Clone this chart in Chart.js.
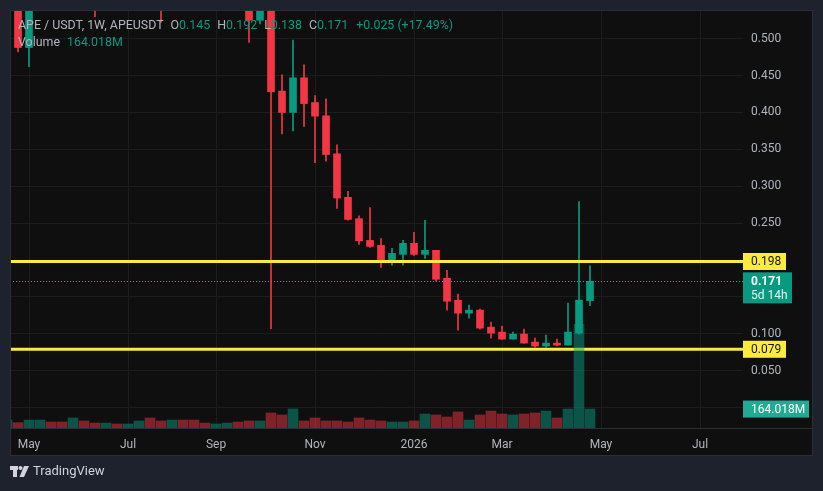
<!DOCTYPE html>
<html>
<head>
<meta charset="utf-8">
<title>APE / USDT 1W</title>
<script src="https://cdn.jsdelivr.net/npm/chart.js@4.4.1/dist/chart.umd.min.js"></script>
<style>
  html, body { margin: 0; padding: 0; background: #1e222d; overflow: hidden; }
  #apeChart { display: block; width: 823px; height: 491px; }
</style>
</head>
<body>
<canvas id="apeChart" width="823" height="491"></canvas>
<script>
// weekly candles, week start (Monday)
var weeks = [
  '2025-04-21', '2025-04-28', '2025-05-05', '2025-05-12', '2025-05-19', '2025-05-26',
  '2025-06-02', '2025-06-09', '2025-06-16', '2025-06-23', '2025-06-30', '2025-07-07',
  '2025-07-14', '2025-07-21', '2025-07-28', '2025-08-04', '2025-08-11', '2025-08-18',
  '2025-08-25', '2025-09-01', '2025-09-08', '2025-09-15', '2025-09-22', '2025-09-29',
  '2025-10-06', '2025-10-13', '2025-10-20', '2025-10-27', '2025-11-03', '2025-11-10',
  '2025-11-17', '2025-11-24', '2025-12-01', '2025-12-08', '2025-12-15', '2025-12-22',
  '2025-12-29', '2026-01-05', '2026-01-12', '2026-01-19', '2026-01-26', '2026-02-02',
  '2026-02-09', '2026-02-16', '2026-02-23', '2026-03-02', '2026-03-09', '2026-03-16',
  '2026-03-23', '2026-03-30', '2026-04-06', '2026-04-13', '2026-04-20', '2026-04-27'
]
var opens = [
  0.469, 0.620, 0.488, 0.630, 0.690, 0.660, 0.620, 0.720, 0.660, 0.580, 0.630, 0.600,
  0.640, 0.710, 0.660, 0.580, 0.630, 0.610, 0.590, 0.570, 0.610, 0.640, 0.590, 0.525,
  0.580, 0.429, 0.400, 0.447, 0.4135, 0.3955, 0.344, 0.285, 0.256, 0.2266, 0.220, 0.1996,
  0.2077, 0.2226, 0.2077, 0.2131, 0.1753, 0.1455, 0.128, 0.1321, 0.109, 0.1023, 0.0928, 0.0996,
  0.0888, 0.0834, 0.0874, 0.0847, 0.1009, 0.145
]
var highs = [
  0.530, 0.640, 0.660, 0.720, 0.730, 0.680, 0.750, 0.740, 0.670, 0.660, 0.650, 0.660,
  0.740, 0.800, 0.680, 0.660, 0.660, 0.630, 0.610, 0.640, 0.670, 0.660, 0.610, 0.620,
  0.600, 0.451, 0.498, 0.4645, 0.423, 0.4185, 0.356, 0.293, 0.260, 0.271, 0.229, 0.216,
  0.2266, 0.2375, 0.2537, 0.2131, 0.1861, 0.1537, 0.1388, 0.1334, 0.1158, 0.1104, 0.1023, 0.1064,
  0.0942, 0.0982, 0.0928, 0.1415, 0.2793, 0.192
]
var lows = [
  0.455, 0.482, 0.462, 0.600, 0.640, 0.600, 0.600, 0.640, 0.530, 0.570, 0.580, 0.580,
  0.620, 0.640, 0.522, 0.560, 0.580, 0.570, 0.550, 0.538, 0.590, 0.570, 0.495, 0.520,
  0.107, 0.371, 0.375, 0.381, 0.332, 0.334, 0.270, 0.254, 0.221, 0.217, 0.190, 0.193,
  0.193, 0.2064, 0.2023, 0.1712, 0.1321, 0.105, 0.1212, 0.1064, 0.0942, 0.0928, 0.0928, 0.0874,
  0.082, 0.082, 0.0834, 0.0847, 0.0996, 0.138
]
var closes = [
  0.516, 0.488, 0.630, 0.690, 0.660, 0.620, 0.720, 0.660, 0.580, 0.630, 0.600, 0.640,
  0.710, 0.660, 0.580, 0.630, 0.610, 0.590, 0.570, 0.610, 0.640, 0.590, 0.525, 0.580,
  0.428, 0.400, 0.447, 0.412, 0.395, 0.343, 0.284, 0.255, 0.226, 0.2185, 0.1996, 0.209,
  0.2226, 0.2077, 0.2131, 0.1739, 0.1442, 0.128, 0.1321, 0.1077, 0.1009, 0.0928, 0.0996, 0.0874,
  0.0834, 0.0874, 0.0847, 0.1023, 0.14563, 0.1711
]
// volume, millions
var volumes = [
  69, 46, 69, 69, 52, 52, 87, 61, 43, 43, 35, 35,
  61, 87, 61, 69, 69, 69, 43, 35, 43, 52, 61, 61,
  130, 113, 165, 61, 87, 61, 61, 52, 87, 69, 61, 52,
  52, 61, 121, 113, 95, 139, 69, 113, 147, 121, 113, 121,
  130, 147, 87, 164, 898, 164.018
]
var tickWeeks = [2, 11, 19, 28, 37, 45, 54, 63]
var tickLabels = ['May', 'Jul', 'Sep', 'Nov', '2026', 'Mar', 'May', 'Jul']
var priceTicks = [0, 0.05, 0.1, 0.15, 0.2, 0.25, 0.3, 0.35, 0.4, 0.45, 0.5]
var hiddenPriceTicks = [0, 0.15, 0.2]
var levels = [0.198, 0.079]

var UP = '#089981'
var DOWN = '#f23645'
var TEXT = '#b2b5be'
var FONT = 'Roboto, "Noto Sans", sans-serif'

function isUp(i) { return closes[i] >= opens[i] }
function candleColor(ctx) { return isUp(ctx.dataIndex) ? UP : DOWN }
function volumeColor(ctx) { return isUp(ctx.dataIndex) ? 'rgba(8,153,129,0.5)' : 'rgba(242,54,69,0.5)' }

var last = weeks.length - 1

var tvDecor = {
  id: 'tvDecor',
  beforeDraw: function(chart) {
    var c = chart.ctx
    c.save()
    c.fillStyle = '#1e222d'
    c.fillRect(0, 0, chart.width, chart.height)
    c.fillStyle = '#0f0f0f'
    c.fillRect(10, 10, 803, 446)
    c.restore()
  },
  // horizontal lines go over the candles but under the volume
  afterDatasetDraw: function(chart, args) {
    if (args.index !== 1) return
    var a = chart.chartArea
    var y = chart.scales.y
    var c = chart.ctx
    c.save()
    c.beginPath()
    c.rect(a.left, a.top, a.right - a.left, a.bottom - a.top)
    c.clip()
    var py = Math.round(y.getPixelForValue(closes[last])) + 0.5
    c.strokeStyle = '#12b195'
    c.lineWidth = 1
    c.setLineDash([1, 2])
    c.beginPath()
    c.moveTo(a.left, py)
    c.lineTo(a.right, py)
    c.stroke()
    c.setLineDash([])
    c.strokeStyle = '#ffeb3b'
    c.lineWidth = 3
    levels.forEach(function(lv) {
      var ly = y.getPixelForValue(lv)
      c.beginPath()
      c.moveTo(a.left, ly)
      c.lineTo(a.right, ly)
      c.stroke()
    })
    c.restore()
  },
  afterDraw: function(chart) {
    var a = chart.chartArea
    var y = chart.scales.y
    var v = chart.scales.v
    var c = chart.ctx
    c.save()

    // frame
    c.strokeStyle = '#2a2e39'
    c.lineWidth = 1
    c.strokeRect(10.5, 10.5, 802, 445)
    c.beginPath()
    c.moveTo(10, a.bottom + 0.5)
    c.lineTo(813, a.bottom + 0.5)
    c.stroke()

    c.textBaseline = 'middle'
    c.textAlign = 'left'

    // level tags
    levels.forEach(function(lv) {
      var ly = y.getPixelForValue(lv)
      c.fillStyle = '#ffeb3b'
      c.fillRect(a.right, ly - 8.5, 43, 17)
      c.fillStyle = '#131722'
      c.font = '12px ' + FONT
      c.fillText(lv.toFixed(3), a.right + 8, ly + 0.5)
    })

    // last price tag
    var py = y.getPixelForValue(closes[last])
    c.fillStyle = UP
    c.fillRect(a.right, py - 9, 49, 31)
    c.fillStyle = '#ffffff'
    c.font = 'bold 12px ' + FONT
    c.fillText(closes[last].toFixed(3), a.right + 8, py + 0.5)
    c.fillStyle = '#e6f4f1'
    c.font = '12px ' + FONT
    c.fillText('5d 14h', a.right + 8, py + 14.5)

    // volume tag
    var vy = v.getPixelForValue(volumes[last])
    c.fillStyle = '#22ab94'
    c.fillRect(a.right, vy - 8.5, 66, 17)
    c.fillStyle = '#ffffff'
    c.font = '12px ' + FONT
    c.fillText(volumes[last].toFixed(3) + 'M', a.right + 8, vy + 0.5)

    // legend, laid out left to right
    var chg = closes[last] - closes[last - 1]
    var pct = chg / closes[last - 1] * 100
    var parts = [
      ['APE / USDT, 1W, APEUSDT', TEXT, 7],
      ['O', TEXT, 0], [opens[last].toFixed(3), UP, 7],
      ['H', TEXT, 0], [highs[last].toFixed(3), UP, 7],
      ['L', TEXT, 0], [lows[last].toFixed(3), UP, 7],
      ['C', TEXT, 0], [closes[last].toFixed(3), UP, 8],
      ['+' + chg.toFixed(3) + ' (+' + pct.toFixed(2) + '%)', UP, 0]
    ]
    c.font = '12.4px ' + FONT
    var x = 18
    parts.forEach(function(p) {
      c.fillStyle = p[1]
      c.fillText(p[0], x, 25.5)
      x += c.measureText(p[0]).width + p[2]
    })
    c.fillStyle = TEXT
    c.fillText('Volume', 18, 42.5)
    c.fillStyle = UP
    c.fillText(volumes[last].toFixed(3) + 'M', 18 + c.measureText('Volume').width + 7, 42.5)

    // footer logo
    c.fillStyle = '#d1d4dc'
    c.fillRect(10, 466, 8, 4)
    c.fillRect(13, 466, 4, 11)
    c.beginPath()
    c.arc(20.5, 468, 2, 0, Math.PI * 2)
    c.fill()
    c.beginPath()
    c.moveTo(24, 466)
    c.lineTo(29, 466)
    c.lineTo(24, 477)
    c.lineTo(19.5, 477)
    c.closePath()
    c.fill()
    c.font = '13px ' + FONT
    c.fillText('TradingView', 33, 472)

    c.restore()
  }
}

var ctx = document.getElementById('apeChart').getContext('2d')
var apeChart = new Chart(ctx, {
  type: 'bar',
  data: {
    datasets: [{
      label: 'wick',
      data: weeks.map(function(w, i) { return { x: i, y: [lows[i], highs[i]] } }),
      backgroundColor: candleColor,
      barThickness: 1,
      grouped: false,
      yAxisID: 'y',
      order: 3
    }, {
      label: 'body',
      data: weeks.map(function(w, i) { return { x: i, y: [opens[i], closes[i]] } }),
      backgroundColor: candleColor,
      barThickness: 7,
      minBarLength: 1,
      grouped: false,
      yAxisID: 'y',
      order: 2
    }, {
      label: 'Volume',
      data: weeks.map(function(w, i) { return { x: i, y: volumes[i] } }),
      backgroundColor: volumeColor,
      barThickness: 10,
      grouped: false,
      yAxisID: 'v',
      order: 1
    }]
  },
  options: {
    responsive: false,
    animation: false,
    devicePixelRatio: 1,
    layout: { padding: { left: 10, top: 10, right: 10, bottom: 35 } },
    plugins: {
      legend: { display: false },
      tooltip: { enabled: false }
    },
    scales: {
      x: {
        type: 'linear',
        min: 0.2727,
        max: 66.909,
        offset: false,
        afterBuildTicks: function(axis) {
          axis.ticks = tickWeeks.map(function(t) { return { value: t } })
        },
        afterFit: function(axis) {
          axis.height = 28
          axis.paddingLeft = 0
          axis.paddingRight = 0
        },
        grid: { color: '#1c1c1c', drawTicks: false, offset: false },
        border: { display: false },
        ticks: {
          autoSkip: false,
          maxRotation: 0,
          padding: 10,
          color: TEXT,
          font: { family: FONT, size: 12 },
          callback: function(value) { return tickLabels[tickWeeks.indexOf(value)] }
        }
      },
      y: {
        position: 'right',
        min: -0.0277,
        max: 0.5389,
        afterBuildTicks: function(axis) {
          axis.ticks = priceTicks.map(function(t) { return { value: t } })
        },
        afterFit: function(axis) {
          axis.width = 70
          axis.paddingTop = 0
          axis.paddingBottom = 0
        },
        grid: { color: '#1c1c1c', drawTicks: false },
        border: { display: false },
        ticks: {
          padding: 8,
          color: TEXT,
          font: { family: FONT, size: 12 },
          callback: function(value) {
            return hiddenPriceTicks.indexOf(value) >= 0 ? '' : value.toFixed(3)
          }
        }
      },
      v: {
        display: false,
        min: 0,
        max: 3620
      }
    }
  },
  plugins: [tvDecor]
})
</script>
</body>
</html>
